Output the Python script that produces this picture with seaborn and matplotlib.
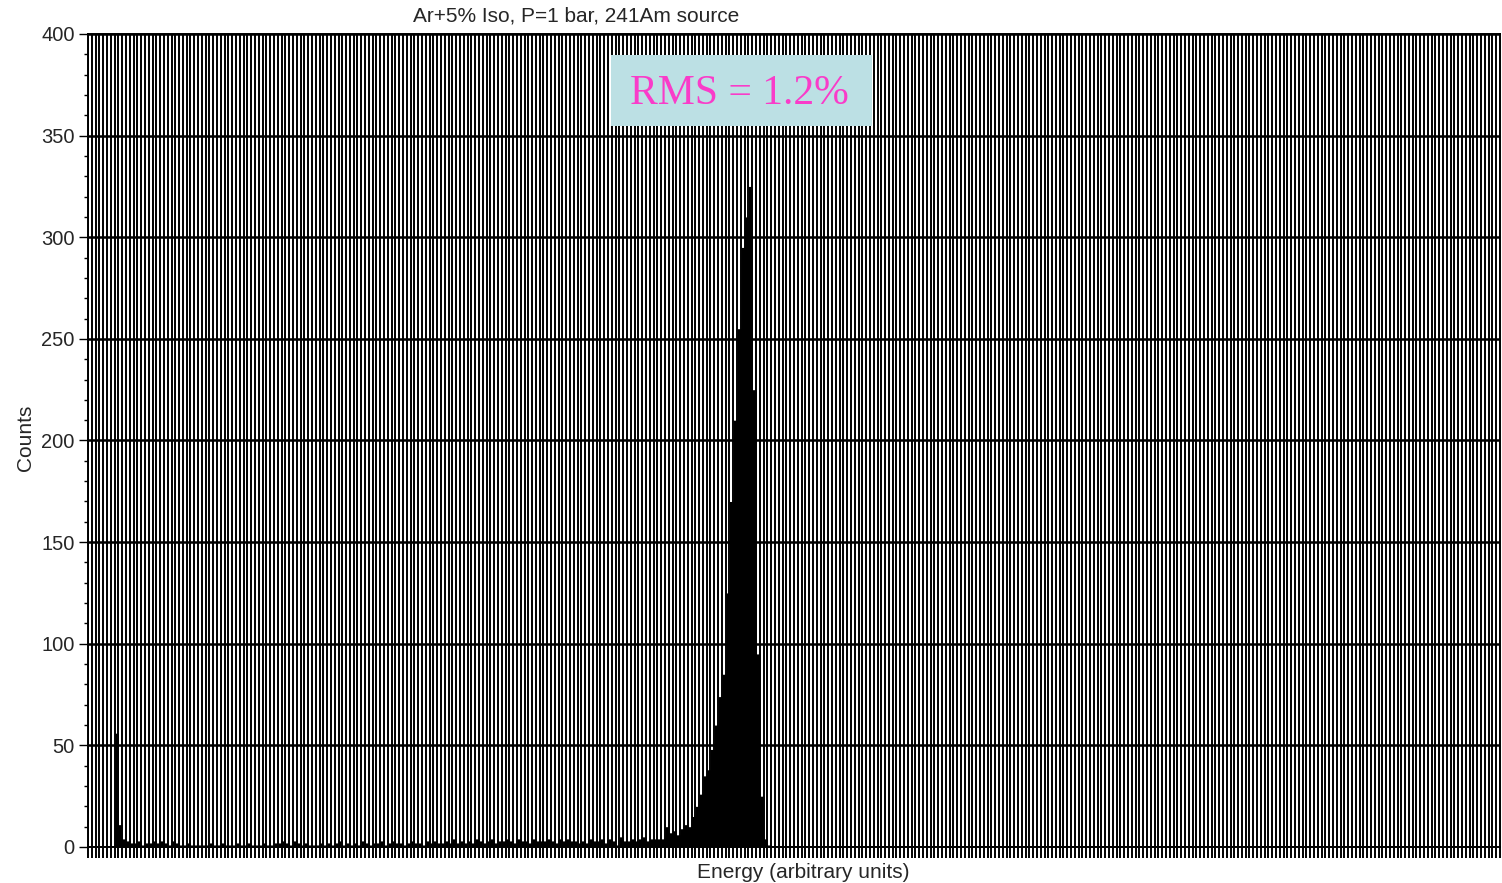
import matplotlib
matplotlib.use("Agg")
import matplotlib.pyplot as plt
from matplotlib.patches import Rectangle
from matplotlib.ticker import MultipleLocator
import numpy as np
import pandas as pd
import seaborn as sns

# ---- spectrum: counts per channel (372 channels) ----
counts_start = [0, 0, 0, 0, 0, 0, 0, 56, 11, 4]
counts_low = [
    3, 2, 2, 3, 1, 2, 2, 3, 2, 3,
    2, 1, 3, 2, 1, 1, 2, 1, 1, 1,
    1, 1, 2, 1, 1, 2, 1, 1, 1, 2,
    1, 1, 2, 1, 1, 1, 2, 1, 1, 2,
    2, 3, 2, 1, 3, 2, 1, 2, 1, 1,
    1, 2, 1, 2, 1, 2, 3, 1, 2, 1,
    2, 1, 3, 2, 1, 2, 2, 3, 1, 2,
    3, 2, 2, 1, 2, 3, 2, 2, 1, 3,
    2, 3, 2, 2, 3, 2, 4, 2, 3, 2,
    3, 2, 4, 3, 2, 3, 4, 2, 3, 3,
    4, 3, 2, 4, 3, 3, 2, 4, 3, 3,
    3, 4, 3, 2, 4, 3, 4, 3, 3, 2,
    3, 2, 4, 3, 3, 4, 2, 4, 3, 1,
    5, 3, 3, 4, 3, 4, 5, 3, 4, 4,
]
counts_peak = [
    4, 4, 10, 7, 8, 6, 9, 11, 10, 15,
    20, 26, 35, 38, 48, 60, 74, 85, 125, 170,
    210, 255, 295, 310, 325, 225, 95, 25, 4, 1,
]
n_channels = 372
counts = counts_start + counts_low + counts_peak
counts = counts + [0] * (n_channels - len(counts))

channels = np.arange(n_channels)
spectrum = pd.DataFrame({"channel": channels + 0.5, "counts": counts})

title_text = "Ar+5% Iso, P=1 bar, 241Am source"
xlabel_text = "Energy (arbitrary units)"
ylabel_text = "Counts"
rms_text = "RMS = 1.2%"
y_max = 400

# ---- figure ----
sns.set_theme(style="white")
plt.rcParams["font.family"] = ["Liberation Sans", "DejaVu Sans"]

W, H = 1502, 883
fig = plt.figure(figsize=(W / 100, H / 100), dpi=100)
ax = fig.add_axes([88 / W, 1 - 847 / H, (1500 - 88) / W, (847 - 34) / H])

sns.histplot(
    data=spectrum, x="channel", weights="counts",
    binwidth=1, binrange=(0, n_channels), element="step", fill=True,
    color="black", alpha=1.0, linewidth=0, ax=ax, zorder=3,
)

ax.set_xlim(0, n_channels)
ax.set_ylim(0, y_max)

# one tick / grid line per channel, no labels
ax.set_xticks(np.arange(0, n_channels + 1))
ax.set_xticklabels([])
ax.yaxis.set_major_locator(MultipleLocator(50))
ax.yaxis.set_minor_locator(MultipleLocator(10))

ax.tick_params(axis="x", which="major", direction="out", length=8, width=1.4,
               color="black", bottom=True)
ax.tick_params(axis="y", which="major", direction="out", length=6.5, width=1.0,
               color="black", left=True, labelsize=14.5, pad=3)
ax.tick_params(axis="y", which="minor", direction="out", length=3, width=1.0,
               color="black", left=True)

ax.grid(False)
ax.xaxis.grid(True, which="major", color="black", linewidth=1.4)
ax.yaxis.grid(True, which="major", color="black", linewidth=1.8)
ax.set_axisbelow(False)

for side, sp in ax.spines.items():
    sp.set_color("black")
    sp.set_linewidth(1.4)

ax.set_xlabel("")
ax.set_ylabel("")

fig.text(576 / W, 1 - 16 / H, title_text, ha="center", va="center", fontsize=15)
fig.text(803 / W, 1 - 872 / H, xlabel_text, ha="center", va="center", fontsize=15)
fig.text(25 / W, 1 - 438 / H, ylabel_text, ha="center", va="center",
         rotation=90, fontsize=15)

# annotation box
fig.add_artist(Rectangle((611 / W, 1 - 126 / H), 261 / W, 71 / H,
                         transform=fig.transFigure, facecolor="#bce0e4",
                         edgecolor="none", zorder=10))
fig.text(739 / W, 1 - 94 / H, rms_text, ha="center", va="center",
         fontsize=30, color="#f93cc9", family=["Liberation Serif"], zorder=11)

fig.savefig("out.png", dpi=100)
